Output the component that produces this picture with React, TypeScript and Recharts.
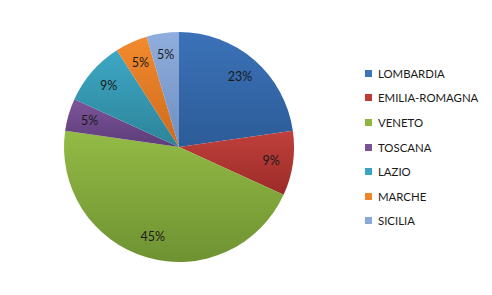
import { PieChart, Pie, Cell, Legend } from "recharts"

const regions = ["LOMBARDIA", "EMILIA-ROMAGNA", "VENETO", "TOSCANA", "LAZIO", "MARCHE", "SICILIA"]
const counts = [5, 2, 10, 1, 2, 1, 1]
const topColors = ["#3B72B8", "#C0403C", "#93BB45", "#7C559A", "#3EA7C4", "#F38A2E", "#8FAEDD"]
const bottomColors = ["#2C5C98", "#9B2B28", "#6E9232", "#5C3C78", "#2C8499", "#CC6A1C", "#6F8FC2"]
const legendColor = ["#3E74B9", "#BE3A37", "#8DB53F", "#7A5197", "#3AA3C0", "#EF8428", "#8AA8D8"]

const data = regions.map((name, i) => ({ name, value: counts[i] }))

const RADIAN = Math.PI / 180

function renderLabel(props: any) {
  const { cx, cy, midAngle, outerRadius, percent } = props
  const r = outerRadius * 0.81
  const x = cx + r * Math.cos(-midAngle * RADIAN)
  const y = cy + r * Math.sin(-midAngle * RADIAN)
  return (
    <text x={x} y={y} fill="#1a1a1a" fontSize={12.5} textAnchor="middle" dominantBaseline="central">
      {`${Math.round(percent * 100)}%`}
    </text>
  )
}

function renderLegend() {
  return (
    <div>
      {regions.map((name, i) => (
        <div key={name} style={{ display: "flex", alignItems: "center", height: 24.6 }}>
          <span style={{ width: 7, height: 7, background: legendColor[i], marginRight: 6, display: "inline-block" }} />
          <span style={{ fontSize: 11.4, color: "#1a1a1a" }}>{name}</span>
        </div>
      ))}
    </div>
  )
}

export default function App() {
  return (
    <div style={{ position: "absolute", left: 0, top: 0, width: 492, height: 295, background: "#fff", fontFamily: "Lato, 'Open Sans', sans-serif" }}>
      <PieChart width={492} height={295} margin={{ top: 0, right: 0, bottom: 0, left: 0 }}>
        <defs>
          {regions.map((name, i) => (
            <linearGradient key={name} id={`grad${i}`} x1="0" y1="0" x2="0" y2="1">
              <stop offset="0%" stopColor={topColors[i]} />
              <stop offset="100%" stopColor={bottomColors[i]} />
            </linearGradient>
          ))}
        </defs>
        <Pie
          data={data}
          dataKey="value"
          nameKey="name"
          cx={179}
          cy={147}
          outerRadius={115}
          startAngle={90}
          endAngle={-270}
          stroke="none"
          label={renderLabel}
          labelLine={false}
          isAnimationActive={false}
        >
          {data.map((d, i) => (
            <Cell key={d.name} fill={`url(#grad${i})`} />
          ))}
        </Pie>
        <Legend
          layout="vertical"
          content={renderLegend}
          wrapperStyle={{ left: 365, top: 61, width: 127 }}
        />
      </PieChart>
    </div>
  )
}
